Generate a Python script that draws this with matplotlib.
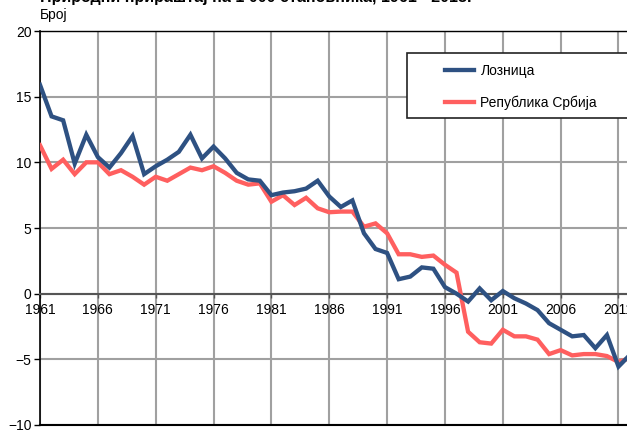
import matplotlib
matplotlib.use("Agg")
import matplotlib.pyplot as plt
from matplotlib.patches import Rectangle

plt.rcParams['font.family'] = ['Liberation Sans', 'DejaVu Sans']

years = list(range(1961, 2013))
loznica = [15.9, 13.5, 13.2, 9.9, 12.1, 10.4, 9.6, 10.7, 12.0, 9.1,
           9.7, 10.2, 10.8, 12.1, 10.3, 11.2, 10.3, 9.2, 8.7, 8.6,
           7.5, 7.7, 7.8, 8.0, 8.6, 7.4, 6.6, 7.1, 4.6, 3.4,
           3.1, 1.1, 1.3, 2.0, 1.9, 0.5, 0.0, -0.6, 0.4, -0.5,
           0.2, -0.35, -0.75, -1.25, -2.25, -2.75, -3.25, -3.15, -4.15, -3.15,
           -5.55, -4.65]
srbija = [11.3, 9.5, 10.2, 9.1, 10.0, 10.0, 9.1, 9.4, 8.9, 8.3,
          8.9, 8.6, 9.1, 9.6, 9.4, 9.7, 9.2, 8.6, 8.3, 8.4,
          7.0, 7.5, 6.75, 7.3, 6.5, 6.2, 6.25, 6.25, 5.1, 5.35,
          4.6, 3.0, 3.0, 2.8, 2.9, 2.2, 1.6, -2.9, -3.7, -3.8,
          -2.75, -3.25, -3.25, -3.5, -4.6, -4.3, -4.7, -4.6, -4.6, -4.75,
          -5.2, -4.9]
xticks = list(range(1961, 2012, 5))
yticks = [-10, -5, 0, 5, 10, 15, 20]
series_names = ['Лозница', 'Република Србија']
title = 'Природни прираштај на 1 000 становника, 1961 - 2013.'
ylabel = 'Број'

W, H = 627, 430
fig = plt.figure(figsize=(W / 100, H / 100), dpi=100)
px_per_year = 11.57
x0, xmax = 1961, 2013
left_px, top_px, bottom_px = 40, 31, 425
ax = fig.add_axes([left_px / W, (H - bottom_px) / H,
                   (xmax - x0) * px_per_year / W, (bottom_px - top_px) / H])

ax.plot(years, srbija, color='#FF5F5F', lw=3.1, label=series_names[1], zorder=3,
        solid_joinstyle='miter')
ax.plot(years, loznica, color='#2E5182', lw=3.1, label=series_names[0], zorder=4,
        solid_joinstyle='miter')

ax.set_xlim(x0, xmax)
ax.set_ylim(-10, 20)
ax.set_xticks(xticks)
ax.set_yticks(yticks)
ax.grid(True, color='#A0A0A0', lw=1.5)
ax.set_axisbelow(True)

ax.spines['right'].set_visible(False)
ax.spines['top'].set_color('black')
ax.spines['left'].set_color('black')
ax.spines['left'].set_linewidth(1.2)
ax.spines['top'].set_linewidth(1.0)
ax.spines['bottom'].set_position(('data', 0))
ax.spines['bottom'].set_color('#555555')
ax.spines['bottom'].set_linewidth(1.5)
ax.axhline(-10, color='black', lw=1.5, clip_on=False, zorder=5)

ax.tick_params(axis='x', direction='out', length=3, width=1, color='#555555',
               labelsize=10, pad=4)
ax.tick_params(axis='y', direction='out', length=4, width=1, labelsize=10, pad=2)
for lab in ax.get_xticklabels():
    lab.set_zorder(6)

# title (partly cut off at top) and unit label
fig.text(40 / W, 1 - 2 / H, title, fontsize=11.5, fontweight='bold',
         va='baseline', ha='left')
fig.text(40 / W, 1 - 19 / H, ylabel, fontsize=10, va='baseline', ha='left')

# legend
handles, labels = ax.get_legend_handles_labels()
order = [1, 0]
leg = fig.legend([handles[i] for i in order], [labels[i] for i in order],
                 loc='upper left', bbox_to_anchor=(438 / W, 1 - 57 / H),
                 frameon=False, fontsize=10, handlelength=2.1,
                 handletextpad=0.45, labelspacing=1.25, borderpad=0)
fig.patches.append(Rectangle((407 / W, 1 - 118 / H), 240 / W, 65 / H,
                             transform=fig.transFigure, facecolor='white',
                             edgecolor='#222222', lw=1.2, zorder=10))
leg.set_zorder(11)

fig.savefig('out.png', dpi=100)
